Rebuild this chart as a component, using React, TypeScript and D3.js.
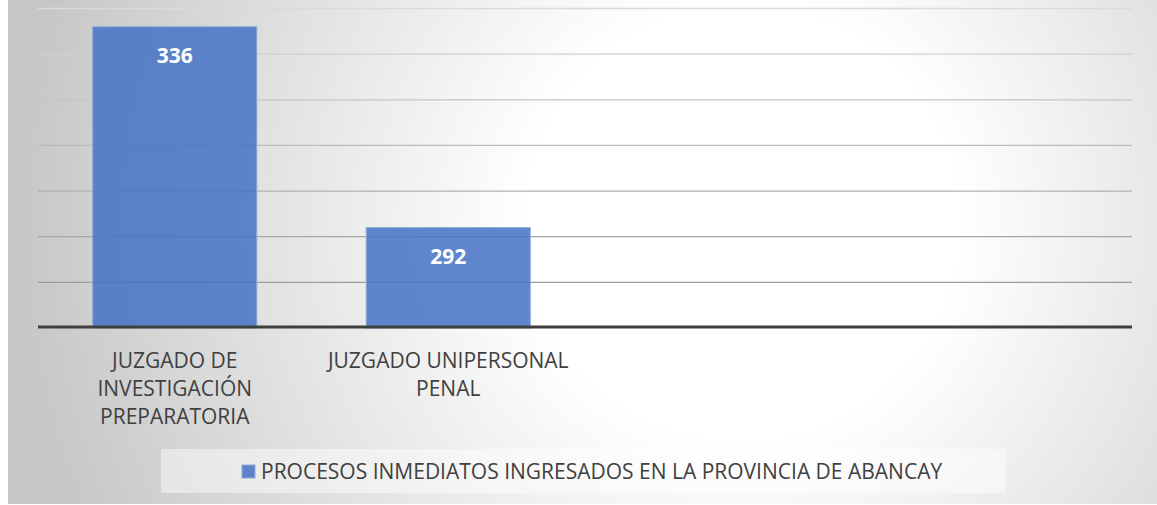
import React from "react";
import * as d3 from "d3";

// chart data
const categories = [
  "JUZGADO DE INVESTIGACIÓN PREPARATORIA",
  "JUZGADO UNIPERSONAL PENAL",
  "",
  "",
];
const categoryLines = [
  ["JUZGADO DE", "INVESTIGACIÓN", "PREPARATORIA"],
  ["JUZGADO UNIPERSONAL", "PENAL"],
  [],
  [],
];
const values: (number | null)[] = [336, 292, null, null];
const yTicks = [280, 290, 300, 310, 320, 330, 340];
const yDomain = [270, 340];
const seriesName = "PROCESOS INMEDIATOS INGRESADOS EN LA PROVINCIA DE ABANCAY";

const W = 1149;
const H = 504;
const FONT = "'Open Sans', Lato, sans-serif";

export default function App() {
  // plot area (svg coords; svg sits at page x=8)
  const left = 30;
  const right = 1124;
  const top = 8.5;
  const bottom = 328;

  const x = d3
    .scaleBand<string>()
    .domain(categories.map((c, i) => i + ""))
    .range([left, right])
    .paddingInner(0.4)
    .paddingOuter(0.2);

  const y = d3.scaleLinear().domain(yDomain).range([bottom, top]);

  const gridColor = d3.interpolateRgb("#dadada", "#9c9c9c");

  return (
    <div style={{ position: "absolute", left: 8, top: 0 }}>
      <svg width={W} height={H} style={{ display: "block" }}>
        <defs>
          <radialGradient
            id="bg"
            gradientUnits="userSpaceOnUse"
            cx={720}
            cy={230}
            r={720}
            fx={740}
            fy={220}
          >
            <stop offset="0" stopColor="#ffffff" />
            <stop offset="0.3" stopColor="#ffffff" />
            <stop offset="1" stopColor="#c6c6c6" />
          </radialGradient>
        </defs>
        <rect width={W} height={H} fill="url(#bg)" />

        {/* gridlines */}
        {yTicks.map((t, i) => (
          <line
            key={t}
            x1={left}
            x2={right}
            y1={y(t)}
            y2={y(t)}
            stroke={gridColor(1 - i / (yTicks.length - 1))}
            strokeWidth={1.3}
          />
        ))}

        {/* bars */}
        {values.map((v, i) =>
          v == null ? null : (
            <g key={i}>
              <rect
                x={x(i + "")!}
                y={y(v)}
                width={x.bandwidth()}
                height={bottom - y(v)}
                fill="#4472c4"
                fillOpacity={0.85}
                stroke="#8eaadc"
                strokeWidth={1}
              />
              <text
                x={x(i + "")! + x.bandwidth() / 2}
                y={y(v) + 28}
                textAnchor="middle"
                dominantBaseline="central"
                fill="#ffffff"
                fontFamily={FONT}
                fontWeight={700}
                fontSize={21}
              >
                {v}
              </text>
            </g>
          )
        )}

        {/* baseline */}
        <line
          x1={left}
          x2={right}
          y1={bottom - 1}
          y2={bottom - 1}
          stroke="#3f3f3f"
          strokeWidth={3}
        />

        {/* category labels */}
        {categoryLines.map((lines, i) => (
          <text
            key={i}
            textAnchor="middle"
            fill="#404040"
            fontFamily={FONT}
            fontSize={21}
          >
            {lines.map((ln, j) => (
              <tspan
                key={j}
                x={x(i + "")! + x.bandwidth() / 2}
                y={360 + j * 28}
                dominantBaseline="central"
              >
                {ln}
              </tspan>
            ))}
          </text>
        ))}

        {/* legend */}
        <rect
          x={153}
          y={449}
          width={845}
          height={44}
          fill="#ffffff"
          fillOpacity={0.45}
        />
        <rect
          x={234}
          y={465}
          width={13}
          height={13}
          fill="#4472c4"
          fillOpacity={0.85}
          stroke="#8eaadc"
          strokeWidth={1}
        />
        <text
          x={253}
          y={471}
          dominantBaseline="central"
          fill="#404040"
          fontFamily={FONT}
          fontSize={21}
        >
          {seriesName}
        </text>
      </svg>
    </div>
  );
}
